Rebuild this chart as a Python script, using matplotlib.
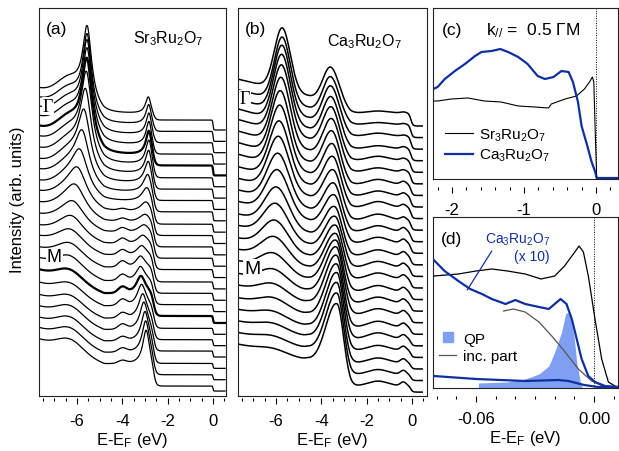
import numpy as np
import matplotlib
matplotlib.use("Agg")
import matplotlib.pyplot as plt
from matplotlib.ticker import MultipleLocator, FixedLocator, FormatStrFormatter
from matplotlib.lines import Line2D

plt.rcParams['font.family'] = ['Liberation Sans', 'DejaVu Sans']
plt.rcParams['mathtext.fontset'] = 'custom'
plt.rcParams['mathtext.rm'] = 'Liberation Sans'
plt.rcParams['mathtext.it'] = 'Liberation Sans:italic'
plt.rcParams['axes.unicode_minus'] = False

# ---------------- (a) Sr3Ru2O7 EDC stack (top = beyond Gamma, bottom = beyond M) ----------------
sr_left     = [41, 43, 45, 47, 48, 49, 49, 49, 50, 50, 51, 51, 51, 51, 52, 52, 53, 53, 52, 51, 51, 51, 52, 52]
sr_valley   = [16, 17, 18, 19, 20, 22, 24, 26, 28, 30, 31, 32, 33, 33, 33, 32, 30, 29, 28, 27, 27, 27, 27, 27]
sr_pk1_pos  = [-5.55, -5.55, -5.55, -5.55, -5.56, -5.58, -5.62, -5.68, -5.76, -5.86, -5.96, -6.06,
               -6.15, -6.22, -6.28, -6.32, -6.35, -6.4, -6.4, -6.4, -6.4, -6.4, -6.4, -6.4]
sr_pk1_amp  = [74, 76, 80, 82, 82, 78, 70, 58, 46, 36, 28, 21, 15, 11, 8, 6, 4, 2, 0, 0, 0, 0, 0, 0]
sr_pk1_wid  = [0.24, 0.24, 0.25, 0.26, 0.27, 0.29, 0.31, 0.34, 0.38, 0.43, 0.48, 0.53,
               0.58, 0.62, 0.66, 0.7, 0.7, 0.7, 0.7, 0.7, 0.7, 0.7, 0.7, 0.7]
sr_hump_amp = [20, 20, 20, 20, 20, 19, 18, 17, 15, 13, 11, 10, 9, 9, 9, 9, 10, 10, 11, 11, 12, 12, 12, 12]
sr_pk2_pos  = [-2.85, -2.83, -2.82, -2.82, -2.82, -2.82, -2.83, -2.85, -2.88, -2.92, -2.96, -3.0,
               -3.05, -3.1, -3.15, -3.2, -3.2, -3.18, -3.15, -3.1, -3.05, -3.0, -2.97, -2.95]
sr_pk2_amp  = [17, 20, 22, 24, 25, 25, 24, 22, 18, 14, 10, 8, 8, 9, 10, 12, 15, 18, 22, 25, 28, 30, 32, 34]
sr_pk2_wid  = [0.15, 0.15, 0.15, 0.15, 0.16, 0.17, 0.18, 0.2, 0.22, 0.25, 0.28, 0.3,
               0.3, 0.28, 0.26, 0.25, 0.24, 0.24, 0.23, 0.22, 0.21, 0.2, 0.19, 0.18]
sr_bump_amp = [0, 0, 0, 0, 0, 0, 0, 0, 0, 0, 2, 3, 4, 5, 5, 6, 6, 6, 6, 5, 5, 4, 4, 3]
sr_plateau  = [10, 10, 10, 10, 10, 9, 9, 9, 9, 8, 8, 8, 8, 8, 7, 7, 7, 7, 6, 6, 6, 5, 5, 5]

# ---------------- (b) Ca3Ru2O7 EDC stack ----------------
ca_left      = [47, 48, 50, 52, 53, 53, 53, 53, 52, 52, 52, 52, 51, 51, 50, 50, 50, 49, 49, 48, 48, 48, 48, 48]
ca_valley    = [30, 30, 31, 32, 33, 33, 33, 33, 33, 33, 32, 32, 31, 31, 31, 31, 31, 31, 31, 31, 31, 32, 32, 32]
ca_pk1_pos   = [-5.72, -5.72, -5.73, -5.74, -5.75, -5.77, -5.8, -5.82, -5.85, -5.88, -5.9, -5.93,
                -5.96, -6.0, -6.03, -6.06, -6.1, -6.1, -6.12, -6.12, -6.15, -6.15, -6.15, -6.15]
ca_pk1_amp   = [62, 64, 66, 67, 67, 66, 64, 61, 57, 53, 48, 43, 38, 33, 28, 23, 18, 14, 11, 9, 7, 6, 5, 4]
ca_pk1_wid   = [0.35, 0.35, 0.36, 0.37, 0.38, 0.39, 0.4, 0.42, 0.44, 0.46, 0.48, 0.5,
                0.52, 0.54, 0.56, 0.58, 0.6, 0.6, 0.6, 0.6, 0.6, 0.6, 0.6, 0.6]
ca_pk2_pos   = [-3.58, -3.58, -3.57, -3.56, -3.55, -3.53, -3.52, -3.5, -3.48, -3.46, -3.44, -3.42,
                -3.4, -3.38, -3.36, -3.35, -3.34, -3.33, -3.32, -3.31, -3.3, -3.3, -3.3, -3.3]
ca_pk2_amp   = [38, 40, 42, 43, 44, 44, 44, 43, 42, 41, 40, 40, 41, 43, 46, 50, 55, 60, 64, 67, 70, 72, 73, 74]
ca_pk2_wl    = [0.35, 0.35, 0.36, 0.37, 0.38, 0.39, 0.4, 0.41, 0.42, 0.43, 0.44, 0.45,
                0.46, 0.47, 0.48, 0.49, 0.5, 0.5, 0.5, 0.5, 0.5, 0.5, 0.5, 0.5]
ca_pk2_wr    = [0.38, 0.38, 0.37, 0.37, 0.36, 0.36, 0.35, 0.35, 0.34, 0.34, 0.33, 0.33,
                0.32, 0.32, 0.31, 0.31, 0.3, 0.3, 0.29, 0.29, 0.28, 0.28, 0.28, 0.28]
ca_plateau   = [13, 13, 13, 12, 12, 12, 11, 11, 11, 10, 10, 10, 9, 9, 9, 8, 8, 8, 7, 7, 7, 6, 6, 6]
ca_hump_amp  = [2, 2, 3, 3, 4, 4, 5, 5, 6, 6, 6, 6, 6, 6, 6, 6, 6, 6, 6, 6, 5, 5, 5, 5]
ca_shld_amp  = [1, 1, 1, 2, 2, 2, 3, 3, 3, 3, 4, 4, 4, 4, 4, 4, 4, 4, 4, 4, 4, 4, 4, 4]

# ---------------- (c) k// = 0.5 GM ----------------
c_sr_E = [-2.26, -2.20, -2.01, -1.78, -1.55, -1.32, -1.08, -0.85, -0.66, -0.62, -0.43, -0.27,
          -0.16, -0.09, -0.05, -0.03, -0.01, 0.01, 0.306]
c_sr_I = [78, 78, 80, 81, 78, 77, 73, 72, 71, 75, 80, 83, 90, 97, 102, 97, 47, 1, 1]
c_ca_E = [-2.26, -2.20, -2.10, -1.96, -1.82, -1.68, -1.59, -1.45, -1.33, -1.22, -1.08, -0.95,
          -0.81, -0.71, -0.59, -0.48, -0.38, -0.32, -0.25, -0.20, -0.12, -0.06, -0.01, 0.01, 0.306]
c_ca_I = [90, 92, 100, 108, 115, 123, 127, 128, 130, 127, 122, 115, 103, 100, 102, 108, 107,
          97, 77, 53, 33, 17, 7, 1, 1]

# ---------------- (d) near E_F ----------------
d_sr_E = [-0.0815, -0.069, -0.060, -0.052, -0.044, -0.035, -0.027, -0.020, -0.015, -0.0105,
          -0.0076, -0.0054, -0.0029, 0.0005, 0.0039, 0.0073, 0.0115, 0.0122]
d_sr_I = [112, 114, 117, 119, 117, 114, 109, 112, 122, 134, 142, 136, 112, 69, 29, 6, 1, 1]
d_ca10_E = [-0.0815, -0.076, -0.069, -0.063, -0.057, -0.052, -0.045, -0.040, -0.035, -0.028,
            -0.023, -0.020, -0.017, -0.014, -0.0113, -0.0088, -0.0063, -0.0029, 0.0005,
            0.0056, 0.0122]
d_ca10_I = [128, 117, 107, 99, 94, 89, 84, 88, 84, 81, 79, 84, 89, 84, 69, 49, 29, 12, 6, 2, 1]
d_ca_E = [-0.0815, -0.060, -0.035, -0.018, -0.013, -0.005, 0.002, 0.0122]
d_ca_I = [12, 9, 7, 8, 7, 3, 1, 1]
d_inc_E = [-0.046, -0.041, -0.035, -0.028, -0.0215, -0.0147, -0.008, -0.0012, 0.0056]
d_inc_I = [77, 79, 76, 66, 52, 36, 19, 7, 1]
d_qp_E = [-0.0588, -0.044, -0.035, -0.028, -0.023, -0.020, -0.0165, -0.0145, -0.0133,
          -0.0117, -0.010, -0.0088, -0.007, -0.006]
d_qp_I = [5, 6, 9, 14, 22, 36, 56, 74, 76, 69, 49, 26, 6, 1]

BLUE = '#10309f'
QPCOL = '#7f9ff2'
SR_TOP, SR_STEP = 266.0, 11.35
CA_TOP, CA_STEP = 270.0, 11.57


def lor(E, p, w):
    return 1.0 / (1.0 + ((E - p) / w) ** 2)


def gau(E, p, s):
    return np.exp(-0.5 * ((E - p) / s) ** 2)


def edc_sr(E, i):
    ramp = np.interp(E, [-7.7, -4.8, 0.6], [sr_left[i], sr_valley[i], sr_valley[i]])
    body = (ramp + sr_pk1_amp[i] * lor(E, sr_pk1_pos[i], sr_pk1_wid[i])
            + sr_hump_amp[i] * gau(E, -6.3, 0.55)
            + sr_pk2_amp[i] * lor(E, sr_pk2_pos[i], sr_pk2_wid[i])
            + sr_bump_amp[i] * gau(E, -4.0, 0.18))
    edge = 1.0 / (1.0 + np.exp((E + 2.62) / 0.06))
    fermi = 1.0 / (1.0 + np.exp(E / 0.012))
    return fermi * (sr_plateau[i] + edge * (body - sr_plateau[i]))


def edc_ca(E, i):
    ramp = np.interp(E, [-7.7, -4.6, -2.7, 0.6],
                     [ca_left[i], ca_valley[i], ca_plateau[i], ca_plateau[i]])
    s2 = np.where(E < ca_pk2_pos[i], ca_pk2_wl[i], ca_pk2_wr[i])
    body = (ramp + ca_pk1_amp[i] * gau(E, ca_pk1_pos[i], ca_pk1_wid[i])
            + ca_pk2_amp[i] * np.exp(-0.5 * ((E - ca_pk2_pos[i]) / s2) ** 2)
            + ca_hump_amp[i] * gau(E, -1.5, 0.45)
            + ca_shld_amp[i] * gau(E, -0.38, 0.13))
    fermi = 1.0 / (1.0 + np.exp((E + 0.05) / 0.045))
    return fermi * body


W, H = 619, 452
fig = plt.figure(figsize=(W / 100, H / 100), dpi=100)


def add_ax(l, r, t, b):
    return fig.add_axes([l / W, (H - b) / H, (r - l) / W, (b - t) / H])


axa = add_ax(39, 226, 9, 397)
axb = add_ax(238, 427, 9, 397)
axc = add_ax(433, 618, 9, 180)
axd = add_ax(433, 618, 218, 389)

XLABEL = r'E-E$_\mathrm{F}$ (eV)'


def style(ax, loc, major, minor, fmt, xlabel):
    ax.set_yticks([])
    ax.tick_params(bottom=False, labelbottom=False, left=False)
    for s in ax.spines.values():
        s.set_linewidth(0.8)
        s.set_color('#222222')
    sec = ax.secondary_xaxis(loc)
    for s in sec.spines.values():
        s.set_visible(False)
    sec.xaxis.set_major_locator(FixedLocator(major))
    sec.xaxis.set_minor_locator(MultipleLocator(minor))
    sec.xaxis.set_major_formatter(FormatStrFormatter(fmt))
    sec.tick_params(which='major', length=4.5, width=0.8, direction='out', labelsize=12, pad=6)
    sec.tick_params(which='minor', length=2.5, width=0.8, direction='out')
    if xlabel:
        sec.set_xlabel(XLABEL, fontsize=12, labelpad=2)
    return sec


# ----- (a)
Ea = np.linspace(-7.675, 0.53, 1400)
for i in range(len(sr_left)):
    lw = 1.6 if i in (4, 17) else 0.9
    axa.plot(Ea, SR_TOP - SR_STEP * i + edc_sr(Ea, i), color='k', lw=lw)
axa.set_xlim(-7.675, 0.573)
axa.set_ylim(0, 388)
style(axa, -2 / 388, [-6, -4, -2, 0], 0.5, '%d', True)
axa.text(0.037, 0.966, '(a)', transform=axa.transAxes, fontsize=12.5, va='top', ha='left')
axa.text(0.69, 0.923, 'Sr$_3$Ru$_2$O$_7$', transform=axa.transAxes, fontsize=11.5, va='center', ha='center')
axa.text(-7.28, 290, 'Γ', fontsize=13, family='Liberation Serif', ha='center', va='center',
         bbox=dict(facecolor='white', edgecolor='none', pad=0.5), zorder=5)
axa.text(-7.0, 139, 'M', fontsize=13, ha='center', va='center',
         bbox=dict(facecolor='white', edgecolor='none', pad=0.5), zorder=5)

# ----- (b)
Eb = np.linspace(-7.675, 0.45, 1400)
for i in range(len(ca_left)):
    axb.plot(Eb, CA_TOP - CA_STEP * i + edc_ca(Eb, i), color='k', lw=1.1)
axb.set_xlim(-7.675, 0.662)
axb.set_ylim(0, 388)
style(axb, -2 / 388, [-6, -4, -2, 0], 0.5, '%d', True)
axb.text(0.037, 0.966, '(b)', transform=axb.transAxes, fontsize=12.5, va='top', ha='left')
axb.text(0.67, 0.915, 'Ca$_3$Ru$_2$O$_7$', transform=axb.transAxes, fontsize=11.5, va='center', ha='center')
axb.text(-7.38, 297, 'Γ', fontsize=13, family='Liberation Serif', ha='center', va='center',
         bbox=dict(facecolor='white', edgecolor='none', pad=0.5), zorder=5)
axb.text(-7.05, 127, 'M', fontsize=14, ha='center', va='center',
         bbox=dict(facecolor='white', edgecolor='none', pad=1.0), zorder=5)

# ----- (c)
axc.plot(c_sr_E, c_sr_I, color='k', lw=0.8)
axc.plot(c_ca_E, c_ca_I, color=BLUE, lw=1.6)
axc.axvline(0, color='k', lw=0.7, ls=(0, (1, 1.5)))
axc.set_xlim(-2.264, 0.306)
axc.set_ylim(0, 171)
style(axc, -8 / 171, [-2, -1, 0], 0.2, '%d', False)
axc.text(0.05, 0.875, '(c)', transform=axc.transAxes, fontsize=12.5, va='center', ha='left')
axc.text(0.54, 0.875, 'k$_{//}$ =  0.5 ΓM', transform=axc.transAxes, fontsize=12.5, va='center', ha='center')
handles_c = [Line2D([], [], color='k', lw=0.8), Line2D([], [], color=BLUE, lw=1.6)]
axc.legend(handles_c, ['Sr$_3$Ru$_2$O$_7$', 'Ca$_3$Ru$_2$O$_7$'], loc='center left',
           bbox_to_anchor=(0.065, 0.2), frameon=False, fontsize=11, handlelength=1.85,
           handletextpad=0.35, labelspacing=0.3, borderpad=0, borderaxespad=0)

# ----- (d)
axd.fill_between(d_qp_E, 0, d_qp_I, color=QPCOL, lw=0, zorder=1)
axd.plot(d_inc_E, d_inc_I, color='#555555', lw=0.9, zorder=2)
axd.plot(d_sr_E, d_sr_I, color='k', lw=0.9, zorder=3)
axd.plot(d_ca10_E, d_ca10_I, color=BLUE, lw=1.6, zorder=3)
axd.plot(d_ca_E, d_ca_I, color=BLUE, lw=1.6, zorder=3)
axd.axvline(0, color='k', lw=0.7, ls=(0, (1, 1.5)))
axd.set_xlim(-0.0819, 0.0122)
axd.set_ylim(0, 171)
style(axd, -8 / 171, [-0.06, 0.0], 0.01, '%.2f', True)
axd.text(0.04, 0.875, '(d)', transform=axd.transAxes, fontsize=12.5, va='center', ha='left')
axd.text(-0.0225, 141, 'Ca$_3$Ru$_2$O$_7$\n(x 10)', color=BLUE, fontsize=10, ha='right', va='center',
         multialignment='right', linespacing=1.15)
axd.annotate('', xy=(-0.0645, 98), xytext=(-0.052, 137),
             arrowprops=dict(arrowstyle='-', color=BLUE, lw=0.9, shrinkA=0, shrinkB=0))
handles_d = [Line2D([], [], color=QPCOL, marker='s', ls='none', markersize=7),
             Line2D([], [], color='#555555', lw=0.9)]
axd.legend(handles_d, ['QP', 'inc. part'], loc='center left', bbox_to_anchor=(0.035, 0.237),
           frameon=False, fontsize=11, handlelength=1.1, handletextpad=0.45, labelspacing=0.25,
           borderpad=0, borderaxespad=0)

fig.text(18 / W, (H - 200) / H, 'Intensity (arb. units)', rotation=90, fontsize=12,
         ha='center', va='center')

fig.savefig('out.png', dpi=100)
